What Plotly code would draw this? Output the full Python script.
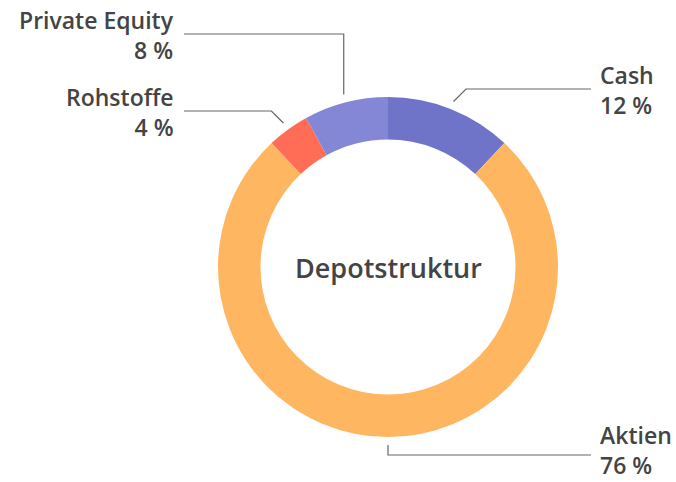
import math
import plotly.graph_objects as go

labels = ["Cash", "Aktien", "Rohstoffe", "Private Equity"]
values = [12, 76, 4, 8]
colors = ["#6F74C8", "#FFB660", "#FF6D57", "#8387D6"]
center_title = "Depotstruktur"

W, H = 676, 482
cx, cy, R = 388, 267, 170
hole = 0.75
FONT = "Open Sans"

# layout of labels (pixel y of the label mid-line, side, crook behaviour)
label_y = [89, 455, 111, 34]
text_dy = [1, -5, 1, 1]
label_side = [1, 1, -1, -1]
label_x_text = [599, 599, 175, 175]
line_end_x = [591, 591, 184, 184]
crook_diag = [True, False, True, False]

fig = go.Figure(go.Pie(
    labels=labels, values=values, sort=False, direction="clockwise", rotation=0,
    hole=hole, textinfo="none", hoverinfo="label+percent",
    marker=dict(colors=colors, line=dict(width=0)),
    domain=dict(x=[(cx - R) / W, (cx + R) / W], y=[(H - cy - R) / H, (H - cy + R) / H]),
    showlegend=False,
))

def px(x, y):
    return x / W, 1 - y / H

total = sum(values)
cum = 0
shapes = []
annotations = []
for i, v in enumerate(values):
    mid = (cum + v / 2) / total * 2 * math.pi
    cum += v
    r1 = R + 8
    sx = cx + r1 * math.sin(mid)
    sy = cy - r1 * math.cos(mid)
    ey = label_y[i]
    if crook_diag[i]:
        ex = sx + math.copysign(abs(ey - sy), math.sin(mid))
    else:
        ex = sx
    pts = [px(sx, sy), px(ex, ey), px(line_end_x[i], ey)]
    path = "M {:.5f} {:.5f} L {:.5f} {:.5f} L {:.5f} {:.5f}".format(*pts[0], *pts[1], *pts[2])
    shapes.append(dict(type="path", path=path, xref="paper", yref="paper",
                       line=dict(color="#666666", width=1.2)))
    pct = round(v / total * 100)
    anchor = "left" if label_side[i] > 0 else "right"
    tx, ty = px(label_x_text[i], ey + text_dy[i])
    annotations.append(dict(
        x=tx, y=ty, xref="paper", yref="paper", showarrow=False,
        xanchor=anchor, yanchor="middle", align=anchor, borderpad=0,
        text="{}<br>{} %".format(labels[i], pct),
        font=dict(family=FONT, size=23, color="#444444", weight=600),
    ))

annotations.append(dict(
    x=cx / W, y=1 - cy / H, xref="paper", yref="paper", showarrow=False,
    text=center_title, font=dict(family=FONT, size=27, color="#444444", weight=600),
))

fig.update_layout(
    width=W, height=H, margin=dict(l=0, r=0, t=0, b=0),
    paper_bgcolor="white", plot_bgcolor="white",
    shapes=shapes, annotations=annotations,
)

fig.write_html("out.html")
